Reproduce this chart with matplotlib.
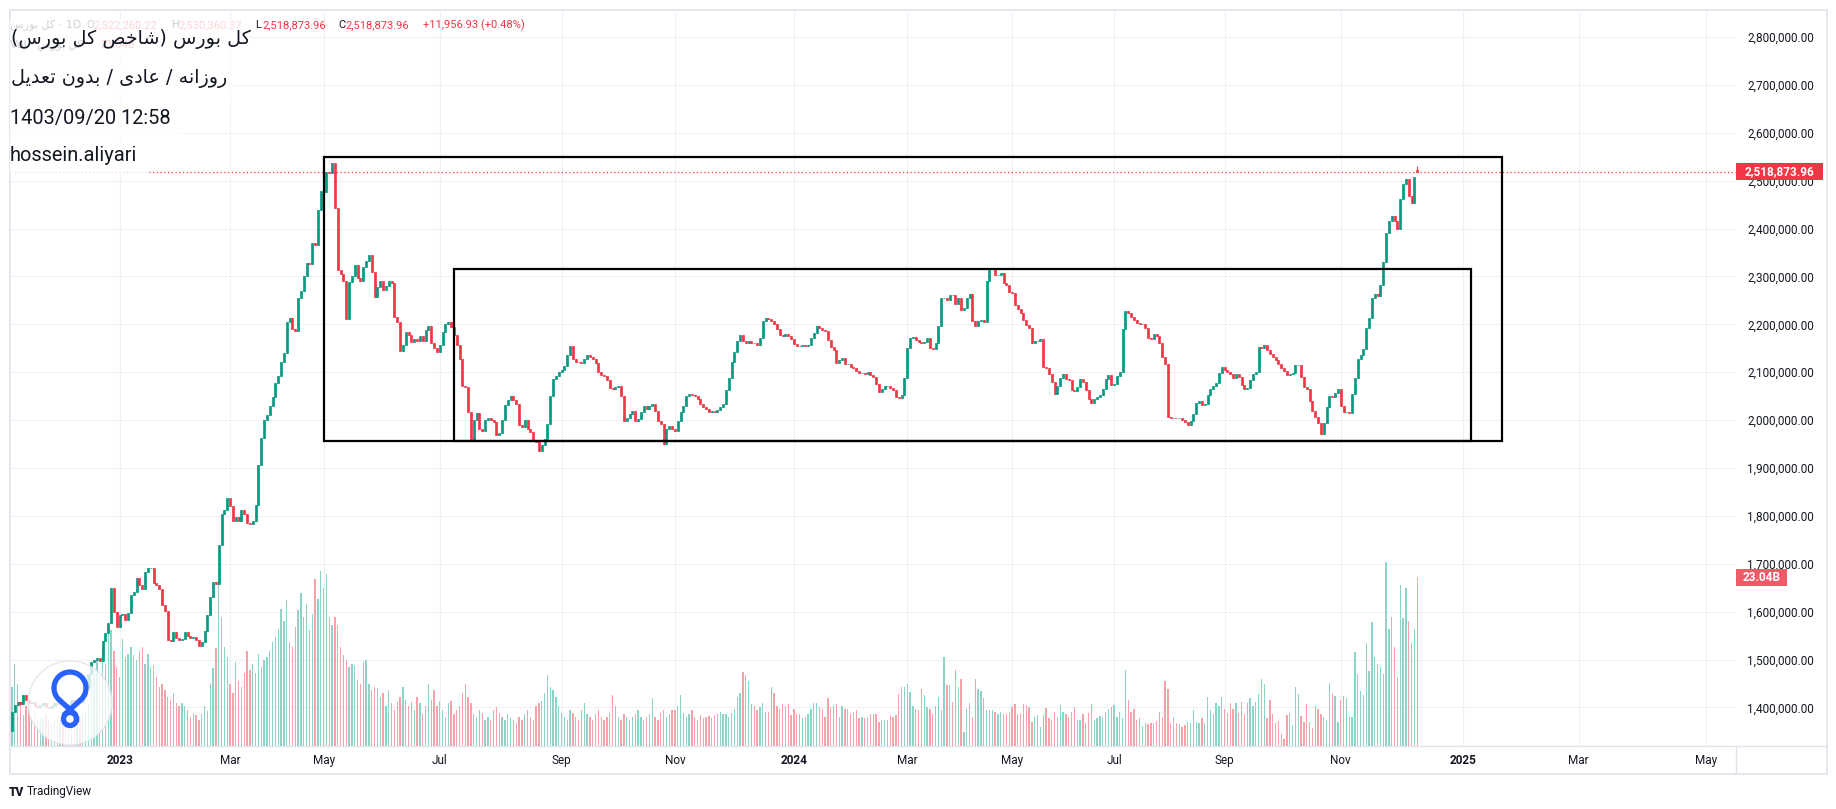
import numpy as np
import pandas as pd
import matplotlib
matplotlib.use("Agg")
import matplotlib.pyplot as plt
import matplotlib.transforms as mtrans
from matplotlib.patches import Rectangle, Circle
from matplotlib.lines import Line2D

plt.rcParams['font.family'] = ['Roboto', 'DejaVu Sans']

W, H, DPI = 1836, 809, 100

# ------------------------------------------------------------------ data
first_open_k = 1350
c_nov_dec_22 = [1390, 1405, 1412, 1408, 1427, 1416, 1409, 1412, 1404, 1400, 1406, 1410, 1402, 1398, 1404, 1410,
                1407, 1412, 1405, 1400, 1408, 1415, 1410, 1418, 1412, 1425, 1440, 1470, 1495, 1500, 1503, 1498,
                1538, 1556, 1577, 1650, 1600, 1568]
c_jan_23 = [1593, 1596, 1582, 1597, 1634, 1642, 1671, 1655, 1647, 1683, 1691, 1692, 1659, 1655, 1647, 1614, 1602,
            1541, 1538, 1557, 1545, 1540, 1543]
c_feb_23 = [1557, 1549, 1545, 1547, 1540, 1528, 1537, 1560, 1593, 1630, 1663, 1658, 1740, 1805, 1812, 1837, 1821]
c_mar_23 = [1789, 1797, 1789, 1813, 1805, 1785, 1783, 1790, 1823, 1907, 1963, 2000, 2010, 2030]
c_apr_23 = [2049, 2077, 2093, 2122, 2140, 2205, 2213, 2191, 2187, 2256, 2270, 2301, 2329, 2325, 2370, 2366, 2439, 2479]
c_may_jun_23 = [2477, 2519, 2515, 2536, 2442, 2313, 2306, 2290, 2212, 2289, 2301, 2323, 2296, 2290, 2320, 2332,
                2344, 2309, 2257, 2278, 2290, 2271, 2280, 2290, 2287, 2215, 2205, 2145, 2156, 2184, 2177, 2163,
                2170, 2166, 2176, 2165, 2189, 2196, 2162, 2150]
c_jul_aug_23 = [2143, 2157, 2184, 2201, 2205, 2194, 2177, 2157, 2128, 2071, 2069, 2018, 1957, 2000, 2014, 1982,
                1977, 2000, 2004, 2000, 1997, 1968, 1973, 2000, 2032, 2042, 2051, 2042, 2034, 1990, 1986, 2000,
                1981, 1975, 1957, 1955, 1936, 1948, 1960, 1992, 2051, 2086, 2093, 2100]
c_sep_oct_23 = [2104, 2112, 2135, 2154, 2128, 2122, 2121, 2120, 2128, 2135, 2132, 2128, 2120, 2100, 2095, 2093,
                2083, 2067, 2065, 2069, 2071, 2051, 1999, 2004, 2013, 2020, 1999, 2003, 2016, 2030, 2024, 2030,
                2034, 2020, 1999, 1992, 1950, 1982, 1987, 1982]
c_nov_dec_23 = [1978, 1999, 2016, 2030, 2051, 2055, 2053, 2051, 2044, 2034, 2027, 2024, 2016, 2020, 2018, 2022,
                2027, 2034, 2062, 2088, 2122, 2142, 2166, 2177, 2166, 2162, 2165, 2162, 2161, 2157, 2171, 2208,
                2213, 2211, 2208, 2201, 2191, 2177, 2176, 2180, 2176, 2169]
c_jan_feb_24 = [2158, 2155, 2155, 2157, 2155, 2156, 2172, 2181, 2197, 2193, 2188, 2186, 2167, 2153, 2146, 2120,
                2125, 2129, 2118, 2118, 2111, 2108, 2102, 2099, 2099, 2097, 2101, 2094, 2090, 2076, 2059, 2066,
                2071, 2072, 2068, 2062, 2048, 2046, 2053]
c_mar_apr_24 = [2087, 2150, 2171, 2174, 2167, 2164, 2160, 2163, 2171, 2150, 2148, 2162, 2197, 2255, 2255, 2251,
                2262, 2261, 2242, 2255, 2230, 2235, 2256, 2263, 2207, 2197, 2207, 2209, 2205, 2290, 2317, 2318,
                2303, 2304, 2307, 2286, 2282, 2268, 2265]
c_may_jun_24 = [2240, 2233, 2223, 2209, 2199, 2192, 2160, 2165, 2166, 2170, 2111, 2108, 2097, 2080, 2055, 2071,
                2087, 2097, 2085, 2084, 2062, 2060, 2069, 2085, 2080, 2062, 2045, 2036, 2045, 2048, 2053, 2066,
                2085, 2095, 2073, 2076]
c_jul_aug_24 = [2092, 2101, 2190, 2227, 2223, 2216, 2209, 2202, 2200, 2201, 2193, 2171, 2169, 2179, 2176, 2160,
                2132, 2118, 2006, 2004, 2005, 2004, 2005, 2001, 1997, 1990, 1999, 2013, 2036, 2039, 2032, 2034,
                2053, 2066, 2071, 2078, 2099]
c_sep_oct_24 = [2111, 2104, 2101, 2097, 2087, 2097, 2090, 2074, 2066, 2067, 2083, 2097, 2101, 2153, 2150, 2157,
                2146, 2139, 2132, 2125, 2118, 2108, 2102, 2095, 2096, 2099, 2115, 2116, 2090, 2069, 2066, 2039,
                2020, 2006, 1994, 1971, 1994, 2027, 2050, 2048, 2057]
c_nov_dec_24 = [2064, 2030, 2016, 2018, 2015, 2055, 2088, 2127, 2135, 2148, 2193, 2213, 2255, 2264, 2259, 2283,
                2330, 2390, 2416, 2427, 2416, 2400, 2461, 2493, 2503, 2469, 2453, 2508, 2518.87396]
last_open_k, last_high_k, last_low_k = 2522.26022, 2530.36037, 2518.87396

# volume, in units of 0.1 billion
v_nov_dec_22 = [81, 112, 85, 60, 42, 54, 60, 40, 45, 35, 40, 38, 42, 36, 30, 34, 40, 35, 32, 38, 42, 36, 40, 45,
                38, 44, 50, 58, 90, 103, 117, 95, 135, 112, 153, 158, 130, 108]
v_jan_23 = [94, 146, 122, 126, 135, 124, 117, 130, 135, 112, 126, 108, 110, 94, 81, 85, 76, 67, 63, 72, 58, 54, 58]
v_feb_23 = [54, 49, 40, 44, 42, 35, 44, 54, 48, 85, 106, 133, 226, 176, 135, 122, 85]
v_mar_23 = [72, 115, 88, 81, 99, 130, 103, 112, 99, 126, 108, 117, 122, 130]
v_apr_23 = [142, 149, 160, 187, 171, 199, 142, 135, 162, 185, 208, 176, 194, 158, 180, 228, 201, 239]
v_may_jun_23 = [216, 235, 176, 165, 176, 165, 135, 124, 117, 108, 112, 110, 90, 85, 115, 117, 85, 76, 81, 79,
                67, 72, 54, 76, 58, 49, 60, 67, 81, 63, 54, 60, 49, 67, 58, 44, 54, 85, 63, 76]
v_jul_aug_23 = [54, 62, 49, 40, 58, 62, 44, 49, 54, 72, 85, 67, 58, 44, 40, 49, 45, 36, 40, 35, 49, 53, 45, 40,
                36, 44, 40, 35, 31, 40, 36, 44, 49, 40, 36, 54, 58, 62, 72, 97, 80, 76, 67, 54]
v_sep_oct_23 = [45, 40, 36, 49, 45, 40, 35, 49, 58, 44, 40, 36, 44, 49, 40, 36, 40, 45, 70, 54, 40, 36, 44, 40,
                36, 40, 44, 49, 40, 36, 40, 44, 65, 40, 36, 45, 49, 40, 44, 49]
v_nov_dec_23 = [49, 54, 70, 45, 40, 44, 49, 40, 36, 42, 38, 40, 41, 38, 42, 44, 47, 44, 44, 40, 45, 50, 67, 72,
                101, 97, 88, 57, 55, 49, 53, 59, 46, 46, 80, 72, 55, 51, 57, 55, 57, 42]
v_jan_feb_24 = [51, 44, 44, 38, 40, 44, 51, 58, 58, 53, 51, 40, 65, 53, 55, 57, 40, 55, 51, 51, 44, 46, 49, 38,
                40, 38, 40, 44, 43, 44, 33, 36, 35, 35, 41, 40, 42, 71, 81]
v_mar_apr_24 = [81, 85, 74, 55, 51, 49, 78, 69, 53, 51, 44, 55, 67, 49, 122, 83, 83, 60, 104, 81, 92, 19, 50, 59,
                40, 92, 78, 75, 65, 49, 49, 49, 47, 44, 47, 44, 44, 47, 53]
v_may_jun_24 = [57, 44, 45, 57, 56, 53, 33, 40, 42, 26, 42, 52, 38, 36, 46, 40, 56, 46, 44, 40, 46, 53, 35, 35,
                44, 31, 45, 57, 35, 38, 41, 40, 46, 51, 53, 56]
v_jul_aug_24 = [40, 46, 38, 104, 63, 46, 50, 35, 38, 27, 31, 30, 31, 32, 34, 46, 40, 89, 78, 32, 40, 31, 30, 26,
                28, 33, 31, 49, 33, 31, 38, 31, 67, 49, 44, 58, 54]
v_sep_oct_24 = [67, 50, 45, 58, 50, 59, 45, 60, 44, 59, 65, 54, 60, 71, 92, 85, 38, 63, 44, 31, 34, 16, 9, 42,
                45, 29, 81, 71, 41, 33, 57, 33, 24, 55, 51, 43, 40, 36, 86, 71, 68]
v_nov_dec_24 = [33, 63, 68, 65, 39, 39, 128, 98, 75, 69, 140, 102, 169, 121, 112, 108, 98, 251, 159, 176, 135,
                94, 220, 174, 216, 170, 140, 160, 230.4]

last_date = "2024-12-10"
holidays = ['2023-02-04', '2023-02-11', '2023-02-18', '2023-02-25', '2023-03-07', '2023-03-20', '2023-03-21',
            '2023-03-22', '2023-03-25', '2023-03-26', '2023-04-01', '2023-04-02', '2023-04-22', '2023-04-23',
            '2023-06-04', '2023-06-05', '2023-07-26', '2023-07-29', '2023-09-06', '2023-09-13', '2023-09-16',
            '2023-10-03', '2023-12-17',
            '2024-01-24', '2024-02-11', '2024-02-25', '2024-03-19', '2024-03-20', '2024-03-23', '2024-03-24',
            '2024-03-31', '2024-04-01', '2024-04-10', '2024-05-20', '2024-05-21', '2024-06-03', '2024-06-04',
            '2024-06-17', '2024-06-18', '2024-06-25', '2024-07-15', '2024-07-16', '2024-07-28', '2024-08-13',
            '2024-08-25', '2024-09-02', '2024-09-03', '2024-09-11', '2024-12-04']

price_ticks = list(range(1_400_000, 2_800_001, 100_000))
month_labels = {1: None, 3: "Mar", 5: "May", 7: "Jul", 9: "Sep", 11: "Nov"}

box_big = ("2023-05-01", "2025-01-21", 1_957_000, 2_549_000)
box_small = ("2023-07-08", "2025-01-06", 1_957_000, 2_316_000)

title_lines = ["کل بورس (شاخص کل بورس)", "روزانه / عادی / بدون تعدیل", "1403/09/20 12:58", "hossein.aliyari"]
symbol_name = "کل بورس"
ohlc_text = [("O", "2,522,260.22"), ("H", "2,530,360.37"), ("L", "2,518,873.96"), ("C", "2,518,873.96")]
change_text = "+11,956.93 (+0.48%)"
last_price_label = "2,518,873.96"
vol_label = "23.04B"

# ------------------------------------------------------------------ Persian shaping (visual order)
AR_FORMS = {
    'ا': ('\uFE8D', '\uFE8E', None, None), 'ب': ('\uFE8F', '\uFE90', '\uFE91', '\uFE92'),
    'ت': ('\uFE95', '\uFE96', '\uFE97', '\uFE98'), 'خ': ('\uFEA5', '\uFEA6', '\uFEA7', '\uFEA8'),
    'د': ('\uFEA9', '\uFEAA', None, None), 'ر': ('\uFEAD', '\uFEAE', None, None),
    'ز': ('\uFEAF', '\uFEB0', None, None), 'س': ('\uFEB1', '\uFEB2', '\uFEB3', '\uFEB4'),
    'ش': ('\uFEB5', '\uFEB6', '\uFEB7', '\uFEB8'), 'ص': ('\uFEB9', '\uFEBA', '\uFEBB', '\uFEBC'),
    'ع': ('\uFEC9', '\uFECA', '\uFECB', '\uFECC'), 'ل': ('\uFEDD', '\uFEDE', '\uFEDF', '\uFEE0'),
    'ن': ('\uFEE5', '\uFEE6', '\uFEE7', '\uFEE8'), 'ه': ('\uFEE9', '\uFEEA', '\uFEEB', '\uFEEC'),
    'و': ('\uFEED', '\uFEEE', None, None), '\u06A9': ('\uFB8E', '\uFB8F', '\uFB90', '\uFB91'),
    '\u0643': ('\uFED9', '\uFEDA', '\uFEDB', '\uFEDC'), '\u06CC': ('\uFBFC', '\uFBFD', '\uFBFE', '\uFBFF'),
    '\u064A': ('\uFEF1', '\uFEF2', '\uFEF3', '\uFEF4'),
}


def persian(s):
    out = []
    for i, ch in enumerate(s):
        f = AR_FORMS.get(ch)
        if f is None:
            out.append(ch)
            continue
        prev = AR_FORMS.get(s[i - 1]) if i > 0 else None
        nxt = s[i + 1] if i + 1 < len(s) else ''
        jp = prev is not None and prev[2] is not None
        jn = f[2] is not None and nxt in AR_FORMS
        out.append(f[3] if (jp and jn) else f[1] if jp else f[2] if jn else f[0])
    vis = ''.join(out)[::-1]
    return ''.join({'(': ')', ')': '('}.get(c, c) for c in vis)


# ------------------------------------------------------------------ series
close_k = (c_nov_dec_22 + c_jan_23 + c_feb_23 + c_mar_23 + c_apr_23 + c_may_jun_23 + c_jul_aug_23 +
           c_sep_oct_23 + c_nov_dec_23 + c_jan_feb_24 + c_mar_apr_24 + c_may_jun_24 + c_jul_aug_24 +
           c_sep_oct_24 + c_nov_dec_24)
vol_01 = (v_nov_dec_22 + v_jan_23 + v_feb_23 + v_mar_23 + v_apr_23 + v_may_jun_23 + v_jul_aug_23 +
          v_sep_oct_23 + v_nov_dec_23 + v_jan_feb_24 + v_mar_apr_24 + v_may_jun_24 + v_jul_aug_24 +
          v_sep_oct_24 + v_nov_dec_24)
n = len(close_k)
close = np.array(close_k, float) * 1000
open_ = np.r_[first_open_k * 1000, close[:-1]]
open_[-1] = last_open_k * 1000
high = np.maximum(open_, close)
low = np.minimum(open_, close)
high[-1] = last_high_k * 1000
low[-1] = last_low_k * 1000
vol_b = np.array(vol_01, float) / 10.0
x = np.arange(n)

days = pd.bdate_range("2022-09-01", "2025-07-31", freq="C", weekmask="Sat Sun Mon Tue Wed", holidays=holidays)
hist = days[days <= last_date][-n:]
cal = hist.append(days[days > last_date])


def idx_of(d):
    return int(np.searchsorted(cal.values, np.datetime64(pd.Timestamp(d))))


tick_pos, tick_lab, tick_bold = [], [], []
for i in range(1, len(cal)):
    m = cal[i].month
    if m != cal[i - 1].month and m in month_labels:
        tick_pos.append(i)
        tick_lab.append(str(cal[i].year) if m == 1 else month_labels[m])
        tick_bold.append(m == 1)

UP, DN = '#089981', '#f23645'
VUP, VDN = '#8ed3c8', '#f7a2a8'
up = close >= open_
ccol = np.where(up, UP, DN)
vcol = np.where(up, VUP, VDN)

# ------------------------------------------------------------------ figure
fig = plt.figure(figsize=(W / DPI, H / DPI), dpi=DPI, facecolor='white')
PL, PR, PT, PB = 10, 1736, 9, 746
ax = fig.add_axes([PL / W, 1 - PB / H, (PR - PL) / W, (PB - PT) / H])
ax.set_facecolor('white')
for s in ax.spines.values():
    s.set_visible(False)

YMAX, YMIN = 2_858_400, 1_319_600
VOL_TOP = 100.5
ax.set_xlim(-0.7, 608.5)
ax.set_ylim(YMIN, YMAX)

ax.set_axisbelow(True)
ax.grid(True, color='#eff1f5', lw=0.8)

blend = mtrans.blended_transform_factory(ax.transData, ax.transAxes)
ax.bar(x, vol_b / VOL_TOP, width=0.48, bottom=0, color=vcol, lw=0, transform=blend, zorder=1)

ax.vlines(x, low, high, colors=ccol, lw=0.8, zorder=3)
ax.bar(x, close - open_, bottom=open_, width=0.72, color=ccol, edgecolor=ccol, lw=0.5, zorder=3)

ax.axhline(close[-1], color=DN, lw=0.9, ls=(0, (1, 2)), zorder=2)

for d0, d1, p0, p1 in (box_big, box_small):
    i0, i1 = idx_of(d0), idx_of(d1)
    ax.add_patch(Rectangle((i0, p0), i1 - i0, p1 - p0, fill=False, ec='black', lw=1.6, zorder=4))

ax.yaxis.tick_right()
ax.set_yticks(price_ticks)
ax.set_yticklabels([f"{v:,.2f}" for v in price_ticks])
ax.tick_params(axis='y', length=0, pad=8, labelsize=8.5, labelcolor='#131722')
ax.set_xticks(tick_pos)
ax.set_xticklabels(tick_lab)
ax.tick_params(axis='x', length=0, pad=6, labelsize=8.5, labelcolor='#131722')
for lab, b in zip(ax.get_xticklabels(), tick_bold):
    if b:
        lab.set_fontweight('bold')
ax.set_ylim(YMIN, YMAX)
ax.set_xlim(-0.7, 608.5)

# ------------------------------------------------------------------ overlay (pixel coordinates)
ov = fig.add_axes([0, 0, 1, 1], zorder=10)
ov.set_xlim(0, W)
ov.set_ylim(H, 0)
ov.axis('off')
ov.patch.set_visible(False)

FR = '#e0e3eb'
ov.add_patch(Rectangle((9.5, 9.5), 1817, 764, fill=False, ec=FR, lw=1.2))
ov.add_line(Line2D([9.5, 1826.5], [PB, PB], color=FR, lw=1.0))
ov.add_line(Line2D([PR, PR], [PB, 773], color=FR, lw=1.0))

# last price label
yp = H - ax.transData.transform((0, close[-1]))[1]
ov.add_patch(Rectangle((PR, yp - 8.5), 87, 17, fc=DN, ec='none', zorder=3))
ov.text(PR + 43.5, yp, last_price_label, color='white', fontsize=8.5, fontweight='bold',
        ha='center', va='center', zorder=4)
# volume label
yv = H - blend.transform((0, vol_b[-1] / VOL_TOP))[1]
ov.add_patch(Rectangle((PR, yv - 8.5), 51, 17, fc='#f15b67', ec='none', zorder=3))
ov.text(PR + 25.5, yv, vol_label, color='white', fontsize=8.5, fontweight='bold',
        ha='center', va='center', zorder=4)

# header legend line
ov.text(10, 25, persian(symbol_name) + " · 1D", fontsize=8, color='#131722', va='center',
        family=['DejaVu Sans'], zorder=1)
for (k, v), xx in zip(ohlc_text, [86, 171, 255, 338]):
    ov.text(xx, 25, k, fontsize=8, color='#131722', va='center', zorder=1)
    ov.text(xx + 7, 25, v, fontsize=8, color=DN, va='center', zorder=1)
ov.text(423, 25, change_text, fontsize=8, color=DN, va='center', zorder=1)
ov.text(10, 45, "Vol · " + persian(symbol_name), fontsize=8, color='#131722', va='center',
        family=['DejaVu Sans'], zorder=1)
ov.text(100, 45, vol_label, fontsize=8, color=DN, va='center', zorder=1)

# text drawings with translucent white backgrounds
boxes = [(19, 58, 250), (59, 98, 234), (99, 137, 183), (138, 174, 148)]
centers = [39, 78, 118, 155]
for (y0, y1, xr), yc, txt, k in zip(boxes, centers, title_lines, range(4)):
    ov.add_patch(Rectangle((10, y0), xr - 10, y1 - y0, fc='white', ec='none', alpha=0.8, zorder=2))
    if k < 2:
        ov.text(11, yc, persian(txt), fontsize=13.8, color='#131722', va='center', ha='left',
                family=['DejaVu Sans'], zorder=3)
    else:
        ov.text(10, yc, txt, fontsize=14.4, color='#131722', va='center', ha='left', zorder=3)

# avatar logo
BL = '#2962ff'
ov.add_patch(Circle((70, 703), 42, fc='white', ec='#dfe2ea', lw=1.0, alpha=0.8, zorder=2))
t = np.radians(np.linspace(-50, 230, 140))
ov.plot(70 + 16 * np.cos(t), 688 - 16 * np.sin(t), color=BL, lw=3.8, solid_capstyle='round', zorder=3)
ov.plot([80.3, 64.5], [700.3, 714.5], color=BL, lw=3.8, solid_capstyle='round', zorder=3)
ov.plot([59.7, 75.5], [700.3, 714.5], color=BL, lw=3.8, solid_capstyle='round', zorder=3)
t2 = np.linspace(0, 2 * np.pi, 80)
ov.plot(70 + 6.5 * np.cos(t2), 719 + 6.5 * np.sin(t2), color=BL, lw=3.8, zorder=3)

# footer
ov.text(9, 792, "TV", fontsize=8.5, fontweight='heavy', color='#131722', va='center')
ov.text(27, 792, "TradingView", fontsize=8.5, color='#131722', va='center')

fig.savefig("out.png", dpi=DPI, facecolor='white')
